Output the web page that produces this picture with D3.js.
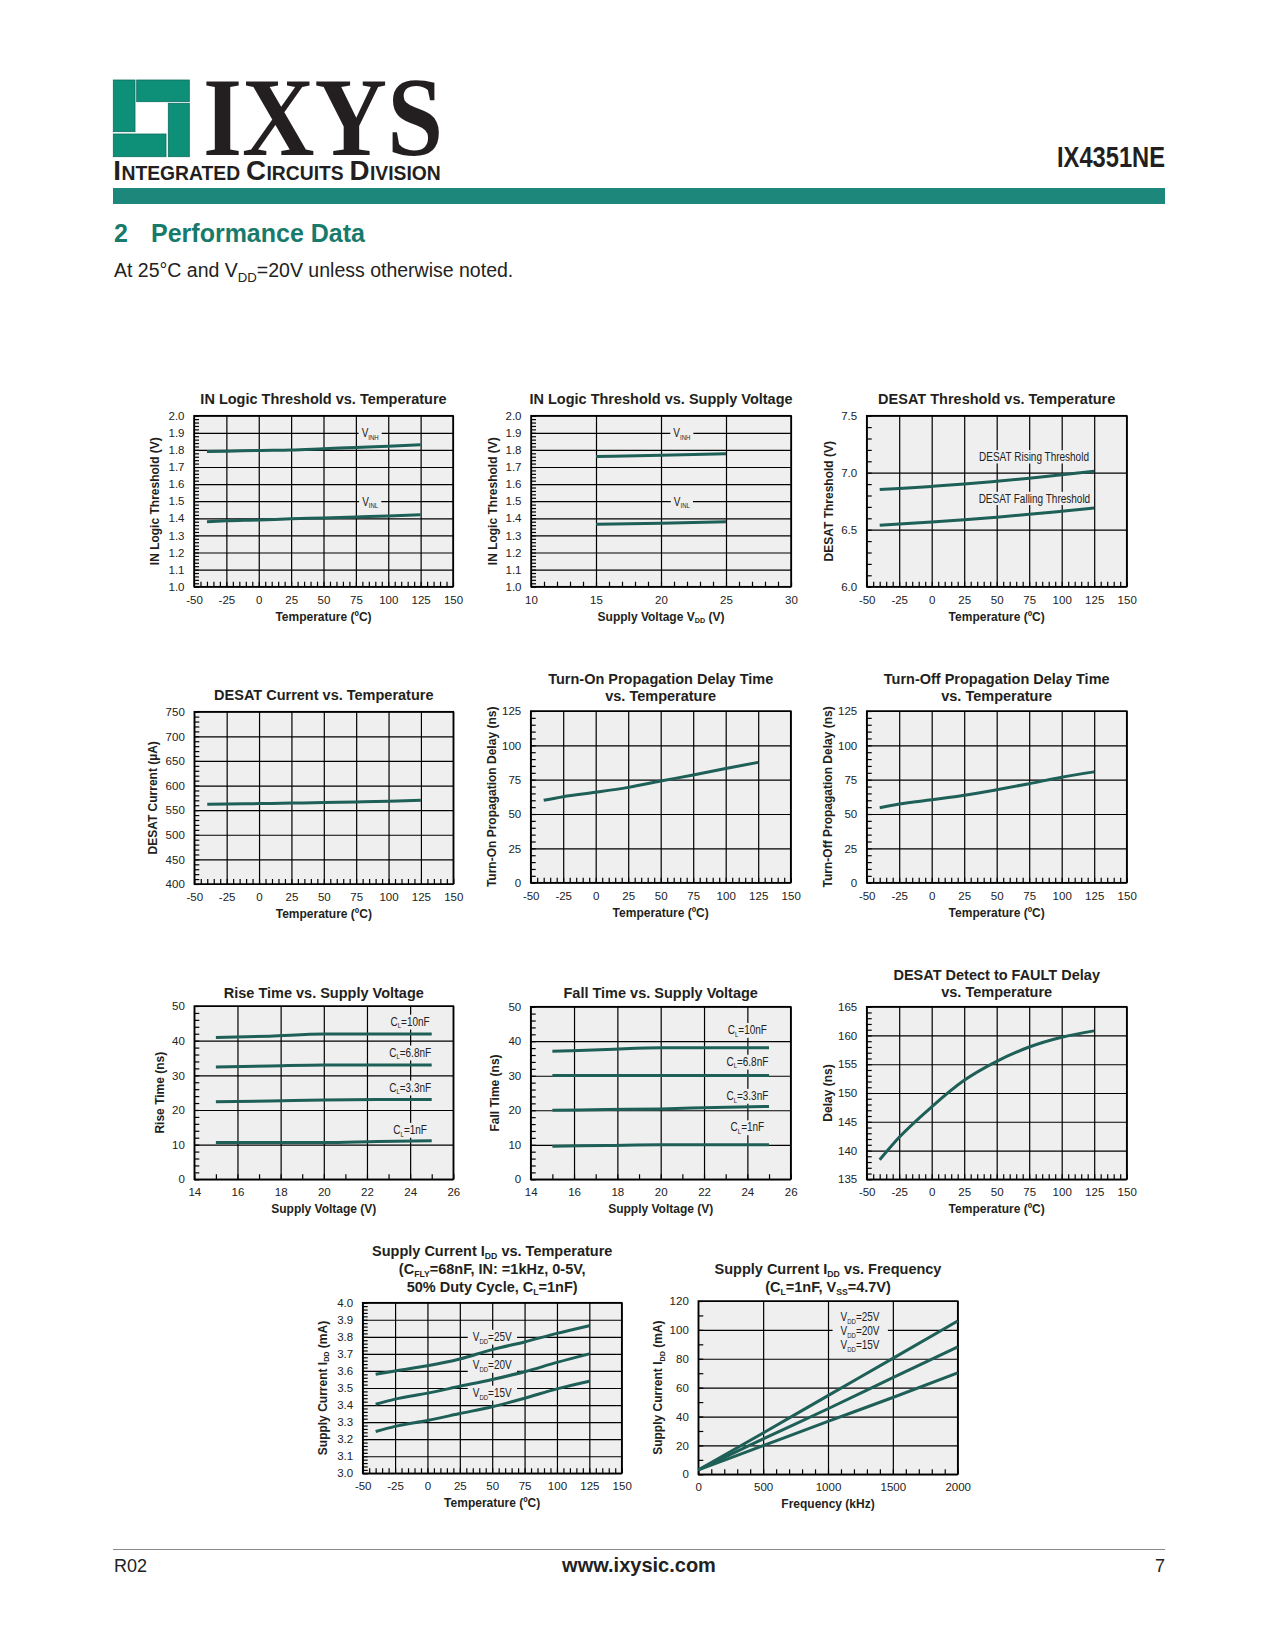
<!DOCTYPE html>
<html>
<head>
<meta charset="utf-8">
<script src="https://cdn.jsdelivr.net/npm/d3@7"></script>
<style>
  body { margin: 0; background: #fff; }
  svg { display: block; }
</style>
</head>
<body>
<svg id="page" width="1275" height="1650"></svg>
<script>
// ---------- data ----------
// shared x values
const tempPts = [-40, -25, 0, 25, 50, 75, 100, 125];
const vddPts = [15, 20, 25];
const vddSweep = [15, 17.5, 20, 22.5, 25];
const freqPts = [0, 500, 1000, 1500, 2000];

// IN logic threshold
const vinhVsTemp = [1.790, 1.792, 1.797, 1.800, 1.807, 1.814, 1.821, 1.830];
const vinlVsTemp = [1.380, 1.385, 1.390, 1.397, 1.402, 1.408, 1.414, 1.421];
const vinhVsVdd = [1.762, 1.768, 1.777];
const vinlVsVdd = [1.365, 1.371, 1.380];

// DESAT threshold / current
const desatRise = [6.852, 6.862, 6.880, 6.900, 6.925, 6.952, 6.982, 7.012];
const desatFall = [6.540, 6.550, 6.568, 6.588, 6.610, 6.635, 6.662, 6.690];
const desatCurrent = [561.8, 562.5, 563.3, 564.3, 565.5, 566.7, 568.2, 569.9];

// propagation delays
const tonDelay = [60.0, 62.6, 65.8, 69.4, 74.0, 78.4, 83.2, 87.6];
const toffDelay = [54.6, 57.3, 60.4, 63.6, 67.7, 72.1, 76.8, 80.7];

// rise / fall times
const rise10n = [40.9, 41.3, 41.9, 41.9, 41.9];
const rise6n8 = [32.4, 32.7, 33.0, 33.0, 33.0];
const rise3n3 = [22.4, 22.6, 22.9, 23.0, 23.0];
const rise1n = [10.6, 10.6, 10.6, 10.9, 11.1];
const fall10n = [37.1, 37.6, 38.1, 38.1, 38.1];
const fall6n8 = [30.1, 30.1, 30.1, 30.1, 30.1];
const fall3n3 = [20.0, 20.2, 20.4, 20.8, 21.1];
const fall1n = [9.6, 9.8, 10.0, 10.0, 10.0];

// DESAT detect to FAULT
const faultDelay = [138.4, 142.3, 147.6, 152.2, 155.5, 158.0, 159.7, 160.8];

// supply current
const iddT25 = [3.580, 3.600, 3.630, 3.670, 3.725, 3.770, 3.820, 3.865];
const iddT20 = [3.405, 3.435, 3.470, 3.510, 3.550, 3.595, 3.650, 3.700];
const iddT15 = [3.245, 3.275, 3.310, 3.350, 3.390, 3.440, 3.495, 3.540];
const iddF25 = [3, 28.6, 54.5, 80.3, 106.2];
const iddF20 = [3, 24.5, 45.4, 66.9, 88.2];
const iddF15 = [3, 19.8, 36.6, 53.2, 70.2];

// tick labels
const tempTicks = [-50, -25, 0, 25, 50, 75, 100, 125, 150];
const vddTicks = [10, 15, 20, 25, 30];
const sweepTicks = [14, 16, 18, 20, 22, 24, 26];
const freqTicks = [0, 500, 1000, 1500, 2000];
const logicTicks = [1.0, 1.1, 1.2, 1.3, 1.4, 1.5, 1.6, 1.7, 1.8, 1.9, 2.0];
const desatThTicks = [6.0, 6.5, 7.0, 7.5];
const desatCurTicks = [400, 450, 500, 550, 600, 650, 700, 750];
const delayTicks = [0, 25, 50, 75, 100, 125];
const timeTicks = [0, 10, 20, 30, 40, 50];
const faultTicks = [135, 140, 145, 150, 155, 160, 165];
const iddTempTicks = [3.0, 3.1, 3.2, 3.3, 3.4, 3.5, 3.6, 3.7, 3.8, 3.9, 4.0];
const iddFreqTicks = [0, 20, 40, 60, 80, 100, 120];

// ---------- page ----------
const SANS = "'Liberation Sans', Arial, Helvetica, sans-serif";
const INK = "#231f20";
const PLOT_BG = "#efefef";
const CURVE = "#1e5f57";

const svg = d3.select("#page").attr("font-family", SANS);
svg.append("rect").attr("width", 1275).attr("height", 1650).attr("fill", "#fff");

// text with subscripts: parts are strings, or [string] for a subscript
function rich(t, parts, fs) {
  let down = false;
  parts.forEach(p => {
    const sub = Array.isArray(p);
    const s = t.append("tspan").text(sub ? p[0] : p);
    if (sub) {
      s.attr("font-size", fs * 0.6).attr("dy", fs * 0.22);
      down = true;
    } else if (down) {
      s.attr("dy", -fs * 0.22);
      down = false;
    }
  });
  return t;
}

// logo
const logo = svg.append("g").attr("fill", "#0d8f78").attr("stroke", "#0a6f5e").attr("stroke-width", 0.8);
[[113.3, 80, 21.7, 51.7], [136.7, 80, 52.6, 21.7], [168.3, 103.3, 21, 53.4], [113.3, 134, 52.7, 22.7]]
  .forEach(([x, y, w, h]) => logo.append("rect").attr("x", x).attr("y", y).attr("width", w).attr("height", h));

svg.append("text").attr("x", 203).attr("y", 155)
  .attr("font-family", "'Liberation Serif', 'Times New Roman', serif").attr("font-weight", "bold")
  .attr("font-size", 112).attr("textLength", 240).attr("lengthAdjust", "spacingAndGlyphs")
  .attr("fill", INK).text("IXYS");

// small-caps division name, laid out piece by piece then fitted to width
const icd = svg.append("g").attr("font-weight", "bold").attr("fill", INK);
let icdX = 0;
[["I", 28], ["NTEGRATED", 19.5, true], ["C", 28], ["IRCUITS", 19.5, true], ["D", 28], ["IVISION", 19.5]]
  .forEach(([s, fs, gap]) => {
    const t = icd.append("text").attr("x", icdX).attr("y", 0).attr("font-size", fs).text(s);
    icdX += t.node().getComputedTextLength() + (gap ? fs * 0.3 : 0.5);
  });
icd.attr("transform", `translate(113.3,180) scale(${328 / icdX},1)`);

svg.append("text").attr("x", 1165).attr("y", 167).attr("text-anchor", "end")
  .attr("font-weight", "bold").attr("font-size", 30).attr("textLength", 108)
  .attr("lengthAdjust", "spacingAndGlyphs").attr("fill", INK).text("IX4351NE");

svg.append("rect").attr("x", 113).attr("y", 188).attr("width", 1052).attr("height", 16).attr("fill", "#1e877b");

svg.append("text").attr("x", 114).attr("y", 242).attr("font-weight", "bold").attr("font-size", 25)
  .attr("fill", "#177a6b").text("2");
svg.append("text").attr("x", 151).attr("y", 242).attr("font-weight", "bold").attr("font-size", 25)
  .attr("fill", "#177a6b").text("Performance Data");

rich(svg.append("text").attr("x", 114).attr("y", 277).attr("font-size", 19.5).attr("fill", "#222"),
  ["At 25°C and V", ["DD"], "=20V unless otherwise noted."], 22);

// footer
svg.append("line").attr("x1", 113).attr("x2", 1165).attr("y1", 1549.5).attr("y2", 1549.5)
  .attr("stroke", "#8a8a8a").attr("stroke-width", 1);
svg.append("text").attr("x", 114).attr("y", 1572).attr("font-size", 18).attr("fill", "#222").text("R02");
svg.append("text").attr("x", 639).attr("y", 1572).attr("text-anchor", "middle").attr("font-size", 20)
  .attr("font-weight", "bold").attr("fill", "#222").text("www.ixysic.com");
svg.append("text").attr("x", 1165).attr("y", 1572).attr("text-anchor", "end").attr("font-size", 18)
  .attr("fill", "#222").text("7");

// ---------- charts ----------
const steps = (lo, hi, s) => d3.range(Math.round((hi - lo) / s) + 1).map(i => lo + i * s);

function addLabel(g, px, py, lines, pad) {
  const fs = 12.5, lh = 13.9, sx = 0.8;
  const lg = g.append("g").attr("transform", `translate(${px},${py}) scale(${sx},1)`);
  const bg = lg.append("rect").attr("fill", PLOT_BG);
  const n = lines.length;
  const texts = lines.map((parts, i) =>
    rich(lg.append("text").attr("text-anchor", "middle").attr("font-size", fs).attr("fill", "#222")
      .attr("y", (i - (n - 1) / 2) * lh + fs * 0.36), parts, fs));
  let x0 = Infinity, x1 = -Infinity, y0 = Infinity, y1 = -Infinity;
  texts.forEach(t => {
    const b = t.node().getBBox();
    x0 = Math.min(x0, b.x); x1 = Math.max(x1, b.x + b.width);
    y0 = Math.min(y0, b.y); y1 = Math.max(y1, b.y + b.height);
  });
  bg.attr("x", x0 - pad / sx).attr("width", x1 - x0 + 2 * pad / sx)
    .attr("y", y0).attr("height", y1 - y0);
}

function drawChart(c) {
  const g = svg.append("g").attr("transform", `translate(${c.left},${c.top})`);
  const x = d3.scaleLinear().domain(d3.extent(c.xTicks)).range([0, c.w]);
  const y = d3.scaleLinear().domain(d3.extent(c.yTicks)).range([c.h, 0]);
  const xMin = steps(x.domain()[0], x.domain()[1], c.xMinor);
  const yMin = steps(y.domain()[0], y.domain()[1], c.yMinor);

  g.append("rect").attr("width", c.w).attr("height", c.h).attr("fill", PLOT_BG);

  // grid lines and inner minor ticks
  const lay = g.append("g");
  lay.append("g").attr("transform", `translate(0,${c.h})`)
    .call(d3.axisBottom(x).tickValues(c.xTicks).tickSize(-c.h).tickFormat(""));
  lay.append("g").call(d3.axisLeft(y).tickValues(c.yTicks).tickSize(-c.w).tickFormat(""));
  lay.append("g").attr("transform", `translate(0,${c.h})`)
    .call(d3.axisBottom(x).tickValues(xMin).tickSize(-5).tickFormat(""));
  lay.append("g").call(d3.axisLeft(y).tickValues(yMin).tickSize(-5).tickFormat(""));
  lay.selectAll(".domain").remove();
  lay.selectAll(".tick line").attr("stroke", "#000").attr("stroke-width", 1.2);

  g.append("rect").attr("width", c.w).attr("height", c.h).attr("fill", "none")
    .attr("stroke", "#000").attr("stroke-width", 1.5);

  // tick labels
  const xl = g.append("g").attr("transform", `translate(0,${c.h})`)
    .call(d3.axisBottom(x).tickValues(c.xTicks).tickSize(0).tickPadding(9)
      .tickFormat(d => d.toFixed(c.xDec || 0)));
  const yl = g.append("g")
    .call(d3.axisLeft(y).tickValues(c.yTicks).tickSize(0).tickPadding(9.5)
      .tickFormat(d => d.toFixed(c.yDec || 0)));
  [xl, yl].forEach(a => {
    a.attr("font-size", 11.5).attr("font-family", null);
    a.select(".domain").remove();
    a.selectAll("text").attr("fill", "#222");
  });

  // titles
  const nT = c.title.length;
  c.title.forEach((parts, i) => {
    rich(g.append("text").attr("x", c.w / 2).attr("y", -c.tOff - (nT - 1 - i) * (c.lh || 17))
      .attr("text-anchor", "middle").attr("font-weight", "bold").attr("font-size", 14.5).attr("fill", INK),
      parts, 14.5);
  });
  rich(g.append("text").attr("x", c.w / 2).attr("y", c.h + 34).attr("text-anchor", "middle")
    .attr("font-weight", "bold").attr("font-size", 12).attr("fill", INK), c.xTitle, 12);
  rich(g.append("text").attr("transform", `translate(${-c.yOff},${c.h / 2}) rotate(-90)`)
    .attr("text-anchor", "middle").attr("font-weight", "bold").attr("font-size", 12).attr("fill", INK),
    c.yTitle, 12);

  // curve labels
  (c.labels || []).forEach(l => addLabel(g, x(l.x), y(l.y), l.lines, c.pad || 3));

  // curves
  const line = d3.line().x(d => x(d[0])).y(d => y(d[1])).curve(d3.curveMonotoneX);
  c.series.forEach(([xs, ys]) => {
    g.append("path").datum(d3.zip(xs, ys)).attr("d", line)
      .attr("fill", "none").attr("stroke", CURVE).attr("stroke-width", 3);
  });
}

const charts = [
  {
    left: 194, top: 415.7, w: 259, h: 171, xTicks: tempTicks, xMinor: 5, yTicks: logicTicks, yMinor: 0.02, yDec: 1,
    title: [["IN Logic Threshold vs. Temperature"]], tOff: 11.5,
    xTitle: ["Temperature (ºC)"], yTitle: ["IN Logic Threshold (V)"], yOff: 35,
    series: [[tempPts, vinhVsTemp], [tempPts, vinlVsTemp]],
    labels: [{ x: 86, y: 1.9, lines: [["V", ["INH"]]] }, { x: 86, y: 1.5, lines: [["V", ["INL"]]] }], pad: 3
  },
  {
    left: 531, top: 415.7, w: 260, h: 171, xTicks: vddTicks, xMinor: 1, yTicks: logicTicks, yMinor: 0.02, yDec: 1,
    title: [["IN Logic Threshold vs. Supply Voltage"]], tOff: 11.5,
    xTitle: ["Supply Voltage V", ["DD"], " (V)"], yTitle: ["IN Logic Threshold (V)"], yOff: 34,
    series: [[vddPts, vinhVsVdd], [vddPts, vinlVsVdd]],
    labels: [{ x: 21.6, y: 1.9, lines: [["V", ["INH"]]] }, { x: 21.6, y: 1.5, lines: [["V", ["INL"]]] }], pad: 3
  },
  {
    left: 866.7, top: 415.7, w: 260, h: 171, xTicks: tempTicks, xMinor: 5, yTicks: desatThTicks, yMinor: 0.1, yDec: 1,
    title: [["DESAT Threshold vs. Temperature"]], tOff: 11.5,
    xTitle: ["Temperature (ºC)"], yTitle: ["DESAT Threshold (V)"], yOff: 34,
    series: [[tempPts, desatRise], [tempPts, desatFall]],
    labels: [{ x: 78.7, y: 7.14, lines: [["DESAT Rising Threshold"]] },
             { x: 79, y: 6.775, lines: [["DESAT Falling Threshold"]] }], pad: 2
  },
  {
    left: 194.3, top: 711.7, w: 259, h: 172.3, xTicks: tempTicks, xMinor: 5, yTicks: desatCurTicks, yMinor: 10,
    title: [["DESAT Current vs. Temperature"]], tOff: 12,
    xTitle: ["Temperature (ºC)"], yTitle: ["DESAT Current (µA)"], yOff: 37,
    series: [[tempPts, desatCurrent]]
  },
  {
    left: 530.7, top: 711, w: 260, h: 171.7, xTicks: tempTicks, xMinor: 5, yTicks: delayTicks, yMinor: 5,
    title: [["Turn-On Propagation Delay Time"], ["vs. Temperature"]], tOff: 10.5, lh: 17,
    xTitle: ["Temperature (ºC)"], yTitle: ["Turn-On Propagation Delay (ns)"], yOff: 35,
    series: [[tempPts, tonDelay]]
  },
  {
    left: 866.7, top: 711, w: 260, h: 171.7, xTicks: tempTicks, xMinor: 5, yTicks: delayTicks, yMinor: 5,
    title: [["Turn-Off Propagation Delay Time"], ["vs. Temperature"]], tOff: 10.5, lh: 17,
    xTitle: ["Temperature (ºC)"], yTitle: ["Turn-Off Propagation Delay (ns)"], yOff: 35,
    series: [[tempPts, toffDelay]]
  },
  {
    left: 194.3, top: 1006, w: 259, h: 173.3, xTicks: sweepTicks, xMinor: 1, yTicks: timeTicks, yMinor: 2,
    title: [["Rise Time vs. Supply Voltage"]], tOff: 8.5,
    xTitle: ["Supply Voltage (V)"], yTitle: ["Rise Time (ns)"], yOff: 30,
    series: [[vddSweep, rise10n], [vddSweep, rise6n8], [vddSweep, rise3n3], [vddSweep, rise1n]],
    labels: [{ x: 24, y: 45.6, lines: [["C", ["L"], "=10nF"]] }, { x: 24, y: 36.7, lines: [["C", ["L"], "=6.8nF"]] },
             { x: 24, y: 26.6, lines: [["C", ["L"], "=3.3nF"]] }, { x: 24, y: 14.4, lines: [["C", ["L"], "=1nF"]] }], pad: 3
  },
  {
    left: 530.7, top: 1006.7, w: 260, h: 172.6, xTicks: sweepTicks, xMinor: 1, yTicks: timeTicks, yMinor: 2,
    title: [["Fall Time vs. Supply Voltage"]], tOff: 8.5,
    xTitle: ["Supply Voltage (V)"], yTitle: ["Fall Time (ns)"], yOff: 32,
    series: [[vddSweep, fall10n], [vddSweep, fall6n8], [vddSweep, fall3n3], [vddSweep, fall1n]],
    labels: [{ x: 24, y: 43.4, lines: [["C", ["L"], "=10nF"]] }, { x: 24, y: 34.2, lines: [["C", ["L"], "=6.8nF"]] },
             { x: 24, y: 24.3, lines: [["C", ["L"], "=3.3nF"]] }, { x: 24, y: 15.2, lines: [["C", ["L"], "=1nF"]] }], pad: 3
  },
  {
    left: 866.7, top: 1006.7, w: 260, h: 172.6, xTicks: tempTicks, xMinor: 5, yTicks: faultTicks, yMinor: 1,
    title: [["DESAT Detect to FAULT Delay"], ["vs. Temperature"]], tOff: 10, lh: 17,
    xTitle: ["Temperature (ºC)"], yTitle: ["Delay (ns)"], yOff: 35,
    series: [[tempPts, faultDelay]]
  },
  {
    left: 362.7, top: 1302.7, w: 259, h: 170.6, xTicks: tempTicks, xMinor: 5, yTicks: iddTempTicks, yMinor: 0.02, yDec: 1,
    title: [["Supply Current I", ["DD"], " vs. Temperature"], ["(C", ["FLY"], "=68nF, IN: =1kHz, 0-5V,"],
            ["50% Duty Cycle, C", ["L"], "=1nF)"]], tOff: 10.5, lh: 18,
    xTitle: ["Temperature (ºC)"], yTitle: ["Supply Current I", ["DD"], " (mA)"], yOff: 36,
    series: [[tempPts, iddT25], [tempPts, iddT20], [tempPts, iddT15]],
    labels: [{ x: 50, y: 3.803, lines: [["V", ["DD"], "=25V"]] }, { x: 50, y: 3.638, lines: [["V", ["DD"], "=20V"]] },
             { x: 50, y: 3.475, lines: [["V", ["DD"], "=15V"]] }], pad: 5
  },
  {
    left: 698.3, top: 1301, w: 259.4, h: 173.3, xTicks: freqTicks, xMinor: 100, yTicks: iddFreqTicks, yMinor: 10,
    title: [["Supply Current I", ["DD"], " vs. Frequency"], ["(C", ["L"], "=1nF, V", ["SS"], "=4.7V)"]], tOff: 9, lh: 18,
    xTitle: ["Frequency (kHz)"], yTitle: ["Supply Current I", ["DD"], " (mA)"], yOff: 36,
    series: [[freqPts, iddF25], [freqPts, iddF20], [freqPts, iddF15]],
    labels: [{ x: 1247, y: 99.6, lines: [["V", ["DD"], "=25V"], ["V", ["DD"], "=20V"], ["V", ["DD"], "=15V"]] }], pad: 8
  }
];

charts.forEach(drawChart);
</script>
</body>
</html>
